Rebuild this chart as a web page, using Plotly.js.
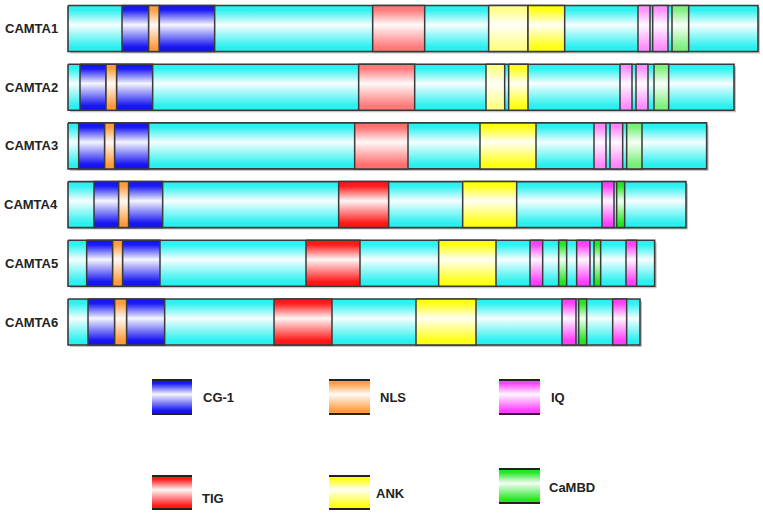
<!DOCTYPE html>
<html><head><meta charset="utf-8">
<script src="https://cdn.plot.ly/plotly-3.0.1.min.js"></script>
<style>html,body{margin:0;padding:0;background:#fff}#chart{width:763px;height:515px}</style>
</head><body><div id="chart"></div>
<script>
// ---------------- DATA (positions in residues) ----------------
const proteins = ['CAMTA1', 'CAMTA2', 'CAMTA3', 'CAMTA4', 'CAMTA5', 'CAMTA6'];
const proteinLengths = [1035, 999, 958, 927, 880, 858];
const camta1Domains = [['CG-1', 81, 121], ['NLS', 121, 137], ['CG-1', 137, 220], ['TIG', 457, 535], ['ANK', 631, 690], ['ANK', 690, 745], ['IQ', 855, 873], ['IQ', 877, 900], ['CaMBD', 906, 931]];
const camta2Domains = [['CG-1', 18, 57], ['NLS', 57, 73], ['CG-1', 73, 127], ['TIG', 436, 520], ['ANK', 627, 655], ['ANK', 661, 690], ['IQ', 828, 846], ['IQ', 852, 870], ['CaMBD', 879, 901]];
const camta3Domains = [['CG-1', 16, 55], ['NLS', 55, 70], ['CG-1', 70, 121], ['TIG', 430, 510], ['ANK', 618, 702], ['IQ', 789, 807], ['IQ', 813, 832], ['CaMBD', 838, 861]];
const camta4Domains = [['CG-1', 39, 76], ['NLS', 76, 91], ['CG-1', 91, 142], ['TIG', 406, 481], ['ANK', 592, 673], ['IQ', 801, 819], ['CaMBD', 823, 835]];
const camta5Domains = [['CG-1', 28, 67], ['NLS', 67, 82], ['CG-1', 82, 138], ['TIG', 357, 438], ['ANK', 556, 642], ['IQ', 693, 712], ['CaMBD', 736, 748], ['IQ', 763, 783], ['CaMBD', 789, 799], ['IQ', 837, 853]];
const camta6Domains = [['CG-1', 30, 70], ['NLS', 70, 88], ['CG-1', 88, 145], ['TIG', 309, 396], ['ANK', 522, 612], ['IQ', 741, 762], ['CaMBD', 766, 778], ['IQ', 817, 838]];
const domainsByProtein = [camta1Domains, camta2Domains, camta3Domains, camta4Domains, camta5Domains, camta6Domains];
const legendLabels = ['CG-1', 'NLS', 'IQ', 'TIG', 'ANK', 'CaMBD'];

// ---------------- STYLE ----------------
const baseColors = {'CG-1': '#1212f2', 'NLS': '#ff9a3c', 'TIG': '#ff1414', 'ANK': '#ffff10', 'IQ': '#ff3cff', 'CaMBD': '#1ee61e', 'body': '#28f0f0'};
// top rows are drawn paler in the original figure
const rowFade = [0.42, 0.42, 0.38, 0, 0, 0];
const fadeTypes = ['TIG', 'IQ', 'CaMBD'];
const paleFirstAnkRows = [0, 1];
const outline = '#3a3a3a';
const UNITS_PER_PX = 1.5;
const LEFT_PX = 68, FIRST_ROW_PX = 28.5, ROW_PITCH_PX = 58.7, BAR_HALF_PX = 23;
const W = 763, H = 515;
// legend placement (pixel space)
const legendBoxes = [[152, 192, 380, 414, 201, 397], [329, 370, 380, 414, 378, 397], [499, 540, 380, 414, 549, 397],
                     [152, 192, 476, 509, 200, 498], [329, 370, 476, 509, 374, 493], [499, 540, 469, 503, 547, 487]];

function hexToRgb(h) { return [parseInt(h.slice(1, 3), 16), parseInt(h.slice(3, 5), 16), parseInt(h.slice(5, 7), 16)]; }
function mix(c, t) { const r = hexToRgb(c).map(v => Math.round(v + (255 - v) * t)); return 'rgb(' + r.join(',') + ')'; }
function grad(c) {
  return [[0, mix(c, 0)], [0.1, mix(c, 0.02)], [0.58, mix(c, 0.96)], [0.9, mix(c, 0.04)], [1, mix(c, 0)]];
}
function rectXY(x0, x1, y0, y1) { return {x: [x0, x1, x1, x0, x0], y: [y0, y0, y1, y1, y0]}; }

const traces = [];
const halfH = BAR_HALF_PX / ROW_PITCH_PX;
proteins.forEach((p, i) => {
  const len = proteinLengths[i];
  // shadow
  const sdx = 2 * UNITS_PER_PX, sdy = 2 / ROW_PITCH_PX;
  const s = rectXY(sdx, len + sdx, i - halfH + sdy, i + halfH + sdy);
  traces.push({type: 'scatter', mode: 'lines', x: s.x, y: s.y, fill: 'toself', fillcolor: '#c4c4c4', line: {width: 0}, hoverinfo: 'skip', showlegend: false});
  const b = rectXY(0, len, i - halfH, i + halfH);
  traces.push({type: 'scatter', mode: 'lines', x: b.x, y: b.y, fill: 'toself', fillgradient: {type: 'vertical', colorscale: grad(baseColors.body)}, line: {color: outline, width: 1.6}, hoverinfo: 'skip', showlegend: false});
  let ankCount = 0;
  domainsByProtein[i].forEach(d => {
    const [type, st, en] = d;
    let c = baseColors[type];
    let fade = 0;
    if (fadeTypes.includes(type)) fade = rowFade[i];
    if (type === 'ANK') { if (ankCount === 0 && paleFirstAnkRows.includes(i)) fade = 0.5; ankCount++; }
    const cc = '#' + hexToRgb(c).map(v => Math.round(v + (255 - v) * fade).toString(16).padStart(2, '0')).join('');
    const r = rectXY(st, en, i - halfH, i + halfH);
    traces.push({type: 'scatter', mode: 'lines', x: r.x, y: r.y, fill: 'toself', fillgradient: {type: 'vertical', colorscale: grad(cc)}, line: {color: outline, width: 1.5}, hoverinfo: 'skip', showlegend: false});
  });
});

const annotations = proteins.map((p, i) => ({xref: 'x', yref: 'y', x: -8 * UNITS_PER_PX, y: i, text: p, showarrow: false, xanchor: 'right', yanchor: 'middle', font: {family: 'Liberation Sans, Arial, sans-serif', size: 13, weight: 700, color: '#222'}}));

legendLabels.forEach((lab, k) => {
  const [x0, x1, y0, y1, lx, ly] = legendBoxes[k];
  const r = rectXY(x0, x1, y0, y1);
  traces.push({type: 'scatter', mode: 'lines', xaxis: 'x2', yaxis: 'y2', x: r.x, y: r.y, fill: 'toself', fillgradient: {type: 'vertical', colorscale: grad(baseColors[lab])}, line: {width: 0}, hoverinfo: 'skip', showlegend: false});
  traces.push({type: 'scatter', mode: 'lines', xaxis: 'x2', yaxis: 'y2', x: [x0, x1, null, x0, x1], y: [y0, y0, null, y1, y1], line: {color: '#222', width: 2}, hoverinfo: 'skip', showlegend: false});
  annotations.push({xref: 'x2', yref: 'y2', x: lx, y: ly, text: lab, showarrow: false, xanchor: 'left', yanchor: 'middle', font: {family: 'Liberation Sans, Arial, sans-serif', size: 13, weight: 700, color: '#222'}});
});

const layout = {
  width: W, height: H, margin: {l: 0, r: 0, t: 0, b: 0}, paper_bgcolor: '#fff', plot_bgcolor: '#fff', showlegend: false,
  xaxis: {range: [-LEFT_PX * UNITS_PER_PX, (W - LEFT_PX) * UNITS_PER_PX], visible: false, fixedrange: true},
  yaxis: {range: [(H - FIRST_ROW_PX) / ROW_PITCH_PX, -FIRST_ROW_PX / ROW_PITCH_PX], visible: false, fixedrange: true},
  xaxis2: {range: [0, W], overlaying: 'x', visible: false, fixedrange: true},
  yaxis2: {range: [H, 0], overlaying: 'y', visible: false, fixedrange: true},
  annotations: annotations
};
Plotly.newPlot('chart', traces, layout, {staticPlot: true, displayModeBar: false});
</script></body></html>
